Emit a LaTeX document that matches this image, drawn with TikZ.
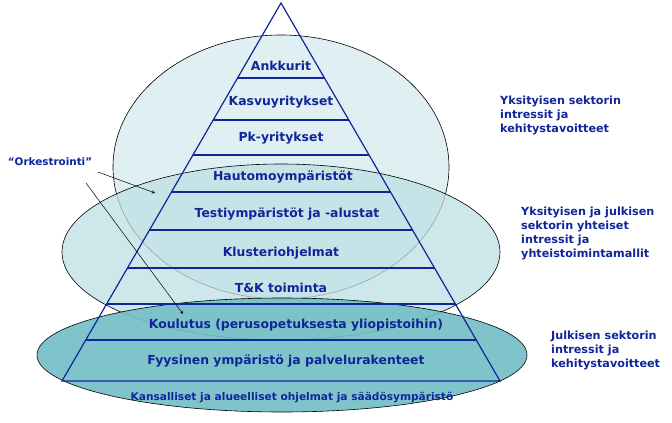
\documentclass[tikz,border=0pt]{standalone}
\usepackage{fontspec}
\setmainfont{DejaVu Sans}
\usetikzlibrary{calc}
\definecolor{tblue}{HTML}{10259A}
\tikzset{
 lbl/.style={text=tblue,font=\bfseries\fontsize{12.4}{14}\selectfont,inner sep=0pt},
 side/.style={text=tblue,font=\bfseries\fontsize{11.2}{14}\selectfont,align=left,anchor=north west,inner sep=0pt},
 ell/.style={draw=black,line width=0.6pt},
 lvl/.style={draw=tblue,line width=1.2pt},
 arr/.style={draw=black,line width=0.5pt,->,>=stealth}
}
\begin{document}
\begin{tikzpicture}[x=1pt,y=-1pt]
\useasboundingbox (0,0) rectangle (672,423);
\fill[fill=white] (0,0) rectangle (672,423);
\draw[ell,fill={rgb,255:red,224;green,240;blue,242}] (281,167) ellipse [x radius=168,y radius=132];
\draw[ell,fill={rgb,255:red,190;green,224;blue,228},fill opacity=0.75] (281,252) ellipse [x radius=219,y radius=88];
\draw[ell,fill={rgb,255:red,115;green,190;blue,198},fill opacity=0.9] (282,355) ellipse [x radius=245,y radius=57];
\coordinate (apex) at (281,3);
\coordinate (bl) at (62,381);
\coordinate (br) at (500,381);
\draw[lvl,line join=miter] (bl) -- (apex) -- (br) -- cycle;
\foreach \yy/\nm in {78/a,120/b,155/c,192/d,230/e,268/f,304/g,340/h}{
 \coordinate (L\nm) at ($(apex)!{(\yy-3)/378}!(bl)$);
 \coordinate (R\nm) at ($(apex)!{(\yy-3)/378}!(br)$);
 \draw[lvl] (L\nm) -- (R\nm);
}
\node[lbl] (n1) at (281,66) {Ankkurit};
\node[lbl] (n2) at (281,102) {Kasvuyritykset};
\node[lbl] (n3) at (281,138) {Pk-yritykset};
\node[lbl] (n4) at (283,177) {Hautomoympäristöt};
\node[lbl] (n5) at (287,214) {Testiympäristöt ja -alustat};
\node[lbl] (n6) at (281,253) {Klusteriohjelmat};
\node[lbl] (n7) at (281,288) {T\&K toiminta};
\node[lbl] (n8) at (296,325) {Koulutus (perusopetuksesta yliopistoihin)};
\node[lbl] (n9) at (286,361) {Fyysinen ympäristö ja palvelurakenteet};
\node[lbl,font=\bfseries\fontsize{10.6}{12}\selectfont] (n10) at (292,398) {Kansalliset ja alueelliset ohjelmat ja säädösympäristö};
\node[side] (s1) at (500,96) {Yksityisen sektorin\\intressit ja\\kehitystavoitteet};
\node[side] (s2) at (521,207) {Yksityisen ja julkisen\\sektorin yhteiset\\intressit ja\\yhteistoimintamallit};
\node[side] (s3) at (551,331) {Julkisen sektorin\\intressit ja\\kehitystavoitteet};
\node[text=tblue,font=\bfseries\fontsize{10.4}{12}\selectfont,inner sep=0pt] (ork) at (50,162) {“Orkestrointi”};
\coordinate (t1) at (155,193);
\coordinate (t2) at (183,314);
\draw[arr] (98,172) -- (t1);
\draw[arr] (86,183) -- (t2);
\end{tikzpicture}
\end{document}
